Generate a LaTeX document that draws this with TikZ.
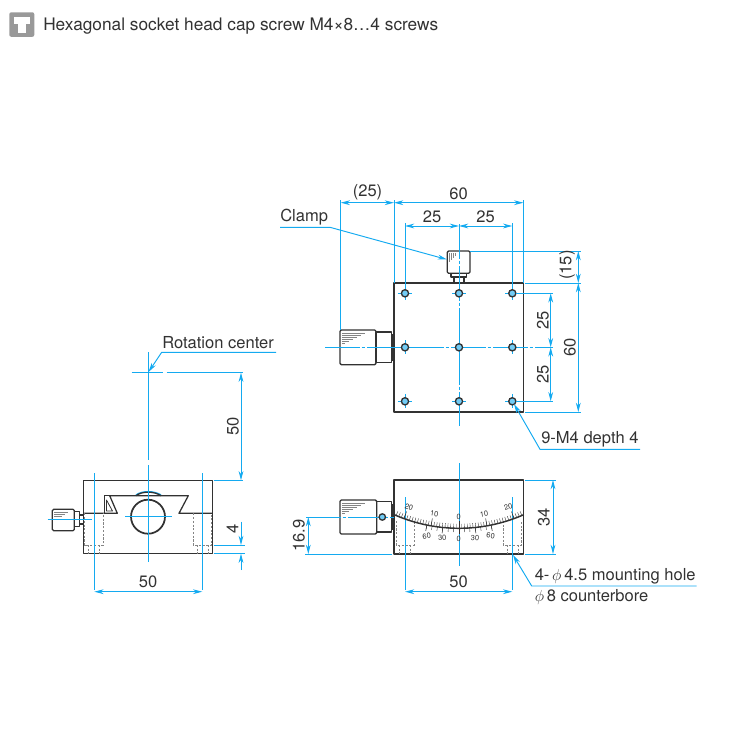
\documentclass[tikz,border=0pt]{standalone}
\usepackage{amsmath}
\usepackage{fontspec}
\setmainfont{TeX Gyre Heros}
\usetikzlibrary{arrows.meta}
\definecolor{dimblue}{RGB}{20,170,240}
\definecolor{partdark}{RGB}{50,50,50}
\tikzset{
  part/.style={draw=partdark,line width=0.95pt,line join=round},
  hidden/.style={draw=partdark!60,line width=0.4pt,dash pattern=on 1.6pt off 1.2pt},
  knurl/.style={draw=partdark!60,line width=0.3pt},
  dimline/.style={draw=dimblue,line width=0.72pt},
  dimarrow/.style={dimline,{Stealth[length=7pt,width=3.6pt]}-{Stealth[length=7pt,width=3.6pt]}},
  endarrow/.style={dimline,-{Stealth[length=7pt,width=3.6pt]}},
  centerline/.style={dimline,dash pattern=on 26pt off 1.5pt on 2.5pt off 1.5pt},
  dimlabel/.style={inner sep=0pt,text=partdark,font=\fontsize{12.4}{12}\selectfont},
  dimlabelrot/.style={dimlabel,rotate=90},
  notelabel/.style={inner sep=0pt,text=partdark,anchor=west,font=\fontsize{12.4}{13}\selectfont},
  headlabel/.style={notelabel,font=\fontsize{12.95}{14}\selectfont},
  scalelabel/.style={inner sep=0pt,text=partdark,font=\fontsize{5.6}{6}\selectfont},
  hole/.style={draw=partdark,line width=1pt,fill=dimblue!60},
}

\begin{document}
\begin{tikzpicture}[x=0.75pt,y=0.75pt,yscale=-1,xscale=1]
  \useasboundingbox (0,0) rectangle (750,750);

  %Shape: Rounded square, screw icon
  \fill [rounded corners=1.5pt,fill=black!40] (9.3,12.3) rectangle (34.3,36.8);
  \fill [white] (14,17) rectangle (30,24);
  \fill [white] (18,24) rectangle (26,33);
  % Text Node
  \node (lblScrew) [headlabel] at (43,26) {Hexagonal socket head cap screw M4×8…4 screws};

  %%% top view
  %Shape: Plate
  \draw [part] (394,283) rectangle (523.4,412);
  %Shape: Knob left
  \draw [part,rounded corners=1pt] (340,330) rectangle (376,364.7);
  \draw [part] (376,332) rectangle (391.7,362.7);
  \fill [partdark] (391.7,334) rectangle (394,360.7);
  \foreach \k/\e in {333/367,335/363,337/359,339/355,341/351,343/347}
    \draw [knurl] (342,\k) -- (\e-2,\k);
  %Shape: Clamp top
  \draw [part,rounded corners=1pt] (447.3,251) rectangle (470,273.3);
  \draw [part] (451,273.3) -- (451,277) -- (466.7,277) -- (466.7,273.3);
  \draw [part] (454,277) rectangle (464,283);
  \foreach \k/\e in {449.5/262,451.5/260,453.5/258,455.5/256}
    \draw [knurl] (\k,253) -- (\k,\e);

  %Center lines
  \draw [centerline] (459,224) -- (459,426);
  \draw [centerline] (325,347.3) -- (553,347.3);

  %Shape: Holes
  \foreach \hx in {405,459,512.3}
    \foreach \hy in {293.3,347.3,401.3} {
      \draw [dimline] (\hx-7,\hy) -- (\hx+7,\hy);
      \draw [dimline] (\hx,\hy-7) -- (\hx,\hy+7);
      \draw [hole] (\hx,\hy) circle (3.6);
    }

  %Straight Lines, extension lines
  \draw [dimline] (340.7,200) -- (340.7,330);
  \draw [dimline] (394,200) -- (394,283);
  \draw [dimline] (523.4,200) -- (523.4,283);
  \draw [dimline] (405,223) -- (405,289);
  \draw [dimline] (512.3,223) -- (512.3,289);
  \draw [dimline] (470,251) -- (581,251);
  \draw [dimline] (525,283) -- (581,283);
  \draw [dimline] (525,412) -- (581,412);
  \draw [dimline] (516,293.3) -- (553,293.3);
  \draw [dimline] (516,401.3) -- (553,401.3);

  %Dimension lines
  \draw [dimarrow] (340.7,202.7) -- (394,202.7);
  \draw [dimarrow] (394,202.7) -- (523.4,202.7);
  \draw [dimarrow] (405,226) -- (459,226);
  \draw [dimarrow] (459,226) -- (512.3,226);
  \draw [dimarrow] (578.3,251) -- (578.3,283);
  \draw [dimarrow] (578.3,283) -- (578.3,412);
  \draw [dimarrow] (550.7,293.3) -- (550.7,347.3);
  \draw [dimarrow] (550.7,347.3) -- (550.7,401.3);

  % Text Node
  \node (lblOffsetX) [dimlabel] at (367.5,192) {(25)};
  \node (lblWidth) [dimlabel] at (458.5,194) {60};
  \node (lblPitchA) [dimlabel] at (432,217) {25};
  \node (lblPitchB) [dimlabel] at (485.5,217) {25};
  \node (lblOffsetY) [dimlabelrot] at (567,265) {(15)};
  \node (lblDepth) [dimlabelrot] at (570,347) {60};
  \node (lblPitchC) [dimlabelrot] at (543,320.5) {25};
  \node (lblPitchD) [dimlabelrot] at (543,374.5) {25};

  %Curve Lines, leaders
  \node (lblClamp) [notelabel] at (280,217.5) {Clamp};
  \coordinate (clampTip) at (447,259.5);
  \draw [endarrow] (280,227.3) -- (330,227.3) -- (clampTip);
  \node (lblThread) [notelabel] at (541,439) {9-M4 depth 4};
  \coordinate (threadTip) at (514,404);
  \draw [endarrow] (640,449.3) -- (540,449.3) -- (threadTip);

  %%% front view
  %Shape: Body
  \draw [part] (394,480) rectangle (523.4,554);
  %Shape: Knob
  \draw [part,rounded corners=1pt] (340,500) rectangle (376.7,534);
  \draw [part] (376.7,501.7) rectangle (391.7,532);
  \fill [partdark] (391.7,504) rectangle (394,530);
  \foreach \k/\e in {503/367,505/363,507/359,509/355,511/351,513/347}
    \draw [knurl] (342,\k) -- (\e-2,\k);

  %Hidden holes
  \draw [hidden] (396,521) -- (396,545) -- (414,545) -- (414,521);
  \draw [hidden] (399.5,545) -- (399.5,554);
  \draw [hidden] (410.5,545) -- (410.5,554);
  \draw [hidden] (503.3,521) -- (503.3,545) -- (521.7,545) -- (521.7,521);
  \draw [hidden] (507,545) -- (507,554);
  \draw [hidden] (518,545) -- (518,554);

  %Center lines
  \draw [dimline] (459,463) -- (459,566);
  \draw [centerline] (306,517) -- (394,517);
  \draw [dimline] (405,497) -- (405,590);
  \draw [dimline] (512.3,497) -- (512.3,590);

  %Curve Lines, scale
  \coordinate (scaleCenter) at (459,367.3);
  \draw [part,line width=1.1pt] ([shift={(66.3:161)}]scaleCenter) arc (66.3:113.7:161);
  \foreach \a in {-23,...,23}
    \draw [partdark,line width=0.3pt] ([shift={(90+\a:161)}]scaleCenter) -- ([shift={(90+\a:156.5)}]scaleCenter);
  \foreach \a in {-20,-10,0,10,20}
    \draw [partdark,line width=0.4pt] ([shift={(90+\a:161)}]scaleCenter) -- ([shift={(90+\a:153.5)}]scaleCenter);
  \foreach \a in {-11.5,-9.6,-7.7,-5.8,-3.8,-1.9,0,1.9,3.8,5.8,7.7,9.6,11.5}
    \draw [partdark,line width=0.3pt] ([shift={(90+\a:161)}]scaleCenter) -- ([shift={(90+\a:165)}]scaleCenter);
  \foreach \a in {-11.5,-5.8,0,5.8,11.5}
    \draw [partdark,line width=0.4pt] ([shift={(90+\a:161)}]scaleCenter) -- ([shift={(90+\a:167)}]scaleCenter);

  %Shape: Screw head on the body
  \draw [hole] (382.3,517) circle (3.2);

  % Text Node
  \node (scaleA) [scalelabel,rotate=-18] at (409,507) {20};
  \node (scaleB) [scalelabel,rotate=-8] at (434.3,514) {10};
  \node (scaleC) [scalelabel] at (458.7,516.7) {0};
  \node (scaleD) [scalelabel,rotate=8] at (484,514) {10};
  \node (scaleE) [scalelabel,rotate=18] at (508.3,507) {20};
  \node (scaleF) [scalelabel,rotate=8] at (426.7,536) {60};
  \node (scaleG) [scalelabel,rotate=4] at (442.3,538) {30};
  \node (scaleH) [scalelabel] at (458.7,538.5) {0};
  \node (scaleI) [scalelabel,rotate=-4] at (475,538) {30};
  \node (scaleJ) [scalelabel,rotate=-8] at (490.7,536) {60};

  %Dimensions
  \draw [dimline] (305,554) -- (392,554);
  \draw [dimline] (525,480) -- (556,480);
  \draw [dimline] (525,554) -- (556,554);
  \draw [dimarrow] (308.3,517) -- (308.3,554);
  \draw [dimarrow] (553,480) -- (553,554);
  \draw [dimarrow] (405,591.7) -- (512.3,591.7);
  \node (lblHeight) [dimlabelrot] at (299,535.5) {16.9};
  \node (lblTall) [dimlabelrot] at (544,517) {34};
  \node (lblMountA) [dimlabel] at (458.5,582) {50};

  %Leader mounting hole
  \node (lblMount) [notelabel] at (534.5,576.5) {4-\,$\phi$\,4.5 mounting hole};
  \node (lblBore) [notelabel] at (534.5,597) {$\phi$\,8 counterbore};
  \coordinate (mountTip) at (513,555);
  \draw [endarrow] (696.7,586) -- (531.7,586) -- (mountTip);

  %%% side view
  %Shape: Body
  \draw [part] (83.7,480.3) rectangle (212.7,553.7);
  \draw [part] (83.7,513.3) -- (117.3,513.3) -- (109.7,495.7) -- (188.3,495.7) -- (179,513.3) -- (212.7,513.3);
  \draw [part] (109.7,495.7) -- (104.3,495.7) -- (104.3,513.3);
  \draw [part,line width=0.6pt] (106.5,500) -- (106.5,511) -- (112.5,511) -- cycle;
  %Shape: Circle
  \draw [part,line width=1.3pt] (148,516.7) circle (17);
  %Curve Lines, lens
  \draw [dimline,line width=1pt] (136,495) .. controls (142,490.5) and (154,490.5) .. (161,495);
  \draw [part] (136,495.7) .. controls (142,491) and (154,491) .. (161,495.7);

  %Shape: Knob
  \draw [part,rounded corners=1pt] (52.3,509.3) rectangle (74.3,530.7);
  \draw [part] (74.3,511.7) rectangle (79.3,526.7);
  \draw [part] (79.3,515) rectangle (83.7,524);
  \foreach \k/\e in {512/68,514/65,516/62}
    \draw [knurl] (54,\k) -- (\e,\k);

  %Hidden holes
  \draw [hidden] (84.5,513.3) -- (84.5,545) -- (103.3,545) -- (103.3,513.3);
  \draw [hidden] (88,545) -- (88,553.7);
  \draw [hidden] (99.5,545) -- (99.5,553.7);
  \draw [hidden] (193.3,513.3) -- (193.3,545) -- (211.7,545) -- (211.7,513.3);
  \draw [hidden] (197,545) -- (197,553.7);
  \draw [hidden] (208,545) -- (208,553.7);

  %Center lines
  \draw [dimline] (148.3,352) -- (148.3,460);
  \draw [dimline] (148.3,465) -- (148.3,562);
  \draw [dimline] (125,516.7) -- (171.7,516.7);
  \draw [dimline] (47.7,519) -- (91.7,519);
  \draw [dimline] (131.7,372.7) -- (163,372.7);
  \draw [dimline] (166.7,372.7) -- (243,372.7);
  \draw [dimline] (94.3,473) -- (94.3,590);
  \draw [dimline] (202.3,473) -- (202.3,590);

  %Dimensions
  \draw [dimline] (213.5,480.3) -- (243,480.3);
  \draw [dimline] (213.5,545) -- (245,545);
  \draw [dimline] (213.5,553.7) -- (245,553.7);
  \draw [dimarrow] (241,372.7) -- (241,480.3);
  \draw [endarrow] (241,521.7) -- (241,545);
  \draw [endarrow] (241,570) -- (241,553.7);
  \draw [dimarrow] (94.3,591.7) -- (202.3,591.7);
  \node (lblPivot) [dimlabelrot] at (233,426) {50};
  \node (lblFour) [dimlabelrot] at (232.5,528.5) {4};
  \node (lblSideWidth) [dimlabel] at (148,582) {50};

  %Leader rotation center
  \node (lblRotation) [notelabel] at (162,342.5) {Rotation center};
  \coordinate (rotationTip) at (148.5,372);
  \draw [endarrow] (276,352.3) -- (161.7,352.3) -- (rotationTip);
\end{tikzpicture}
\end{document}
